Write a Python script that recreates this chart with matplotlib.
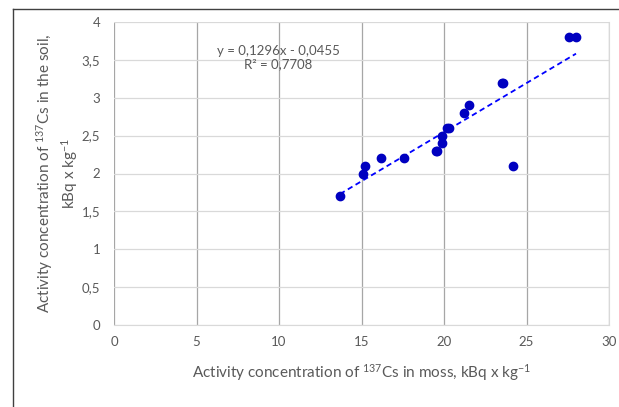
import numpy as np
import matplotlib
matplotlib.use('Agg')
import matplotlib.pyplot as plt
from matplotlib.lines import Line2D

plt.rcParams['font.family'] = ['Lato', 'DejaVu Sans']
plt.rcParams['mathtext.default'] = 'regular'

moss = [13.7, 15.1, 15.2, 16.2, 17.6, 19.5, 19.6, 19.9, 19.9, 20.2, 20.3,
        21.2, 21.5, 23.5, 23.6, 24.2, 27.6, 28.0]
soil = [1.7, 2.0, 2.1, 2.2, 2.2, 2.3, 2.3, 2.4, 2.5, 2.6, 2.6,
        2.8, 2.9, 3.2, 3.2, 2.1, 3.8, 3.8]
eq_text = 'y = 0,1296x - 0,0455\nR² = 0,7708'
x_ticks = [0, 5, 10, 15, 20, 25, 30]
y_ticks = [0, 0.5, 1, 1.5, 2, 2.5, 3, 3.5, 4]

grey = '#595959'

fig = plt.figure(figsize=(6.19, 4.07), dpi=100)
ax = fig.add_axes([114 / 619, 1 - 325 / 407, 495 / 619, 303 / 407])

# trend line
k, b = np.polyfit(moss, soil, 1)
xs = np.array([min(moss), max(moss)])
ax.plot(xs, k * xs + b, ls=(0, (3, 2)), color='#0000ff', lw=1.3, zorder=3)

ax.scatter(moss, soil, s=36, color='#0000c0', zorder=4)

ax.set_xlim(0, 30)
ax.set_ylim(0, 4)
ax.set_xticks(x_ticks)
ax.set_yticks(y_ticks)
ax.set_yticklabels([str(v).replace('.', ',') if v % 1 else str(int(v)) for v in y_ticks])
ax.tick_params(length=0, labelsize=9.5, colors=grey, pad=8)
ax.tick_params(axis='y', pad=10)

ax.grid(axis='y', color='#d9d9d9', lw=0.9)
ax.grid(axis='x', color='#a6a6a6', lw=0.9)
ax.set_axisbelow(True)
for s in ['top', 'left']:
    ax.spines[s].set_visible(False)
ax.spines['bottom'].set_color('#d9d9d9')
ax.spines['right'].set_color('#d9d9d9')

ax.text(9.94, 3.53, eq_text, ha='center', va='center', fontsize=9.5,
        color=grey, linespacing=1.2)

ax.set_xlabel('Activity concentration of $^{137}$Cs in moss, kBq x kg$^{-1}$',
              fontsize=11, color=grey, labelpad=10)
ax.set_ylabel('Activity concentration of $^{137}$Cs in the soil,\nkBq x kg$^{-1}$',
              fontsize=11, color=grey, labelpad=1, linespacing=1.3)

# outer frame
fx = 13 / 619
fy = 1 - 9 / 407
fig.add_artist(Line2D([fx, fx], [0, fy], color='#404040', lw=1))
fig.add_artist(Line2D([fx, 1], [fy, fy], color='#404040', lw=1))

fig.savefig('out.png', dpi=100)
